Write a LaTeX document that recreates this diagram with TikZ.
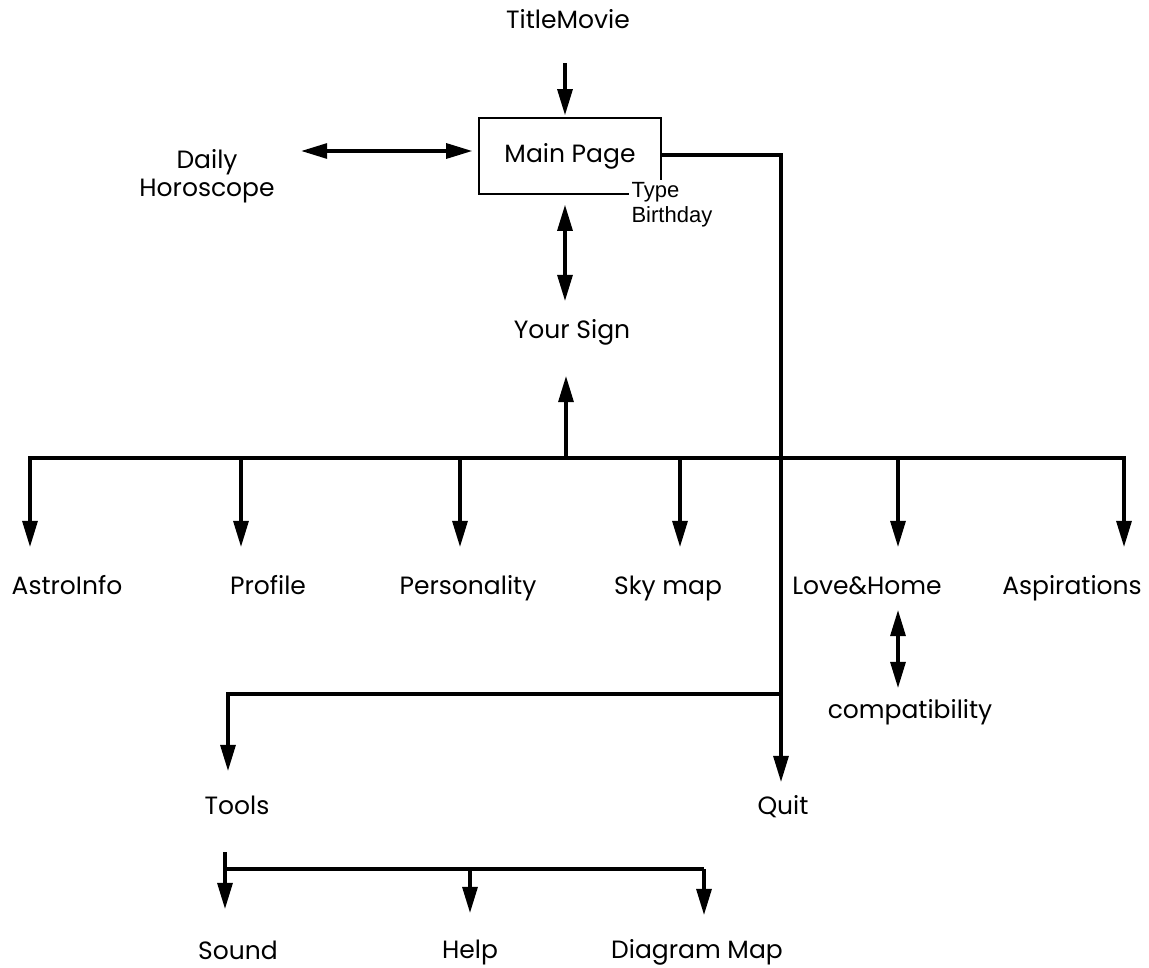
\documentclass[tikz,border=0pt]{standalone}
\usepackage{fontspec}
\setmainfont{Poppins}
\newfontfamily\notefont{Liberation Sans}
\usetikzlibrary{arrows.meta,positioning}

\begin{document}
\begin{tikzpicture} [
      x = 1pt, y = -1pt,
      line width = 3.1pt,
      >= {Triangle[length=26pt, width=15pt]},
      every node/.style = {inner sep = 0, font = \fontsize{25}{28}\selectfont},
      screen/.style = {text height = 19pt, text depth = 6pt},
      frame/.style = {draw, line width = 1.6pt, minimum width = 182pt, minimum height = 76pt},
      note/.style = {fill = white, inner sep = 3pt, align = left, font = \notefont\fontsize{22}{25}\selectfont}
      ]
    \useasboundingbox (0,0) rectangle (1149,968);

    % main page and its neighbours
    \node [screen] (title) at (568,22) {TitleMovie};
    \node [frame] (main) at (570,156) {Main Page};
    \node [note, anchor = north west] (birthday) at (627,178) {Type\\Birthday};
    \node [align = center] (daily) at (207,176) {Daily\\Horoscope};
    \node [screen] (sign) at (572,332) {Your Sign};

    % sign pages
    \node [screen] (astro) at (67,588) {AstroInfo};
    \node [screen] (profile) at (268,588) {Profile};
    \node [screen] (person) at (468,588) {Personality};
    \node [screen] (sky) at (668,588) {Sky map};
    \node [screen] (love) at (867,588) {Love\&Home};
    \node [screen] (aspire) at (1072,588) {Aspirations};
    \node [screen] (compat) at (910,712) {compatibility};

    % tools and quit
    \node [screen] (tools) at (237,808) {Tools};
    \node [screen] (quit) at (783,808) {Quit};
    \node [screen] (sound) at (238,953) {Sound};
    \node [screen] (help) at (470,952) {Help};
    \node [screen] (diagram) at (697,952) {Diagram Map};

    \coordinate (hub) at (566,458);
    \coordinate (b1) at (30,458);
    \coordinate (b2) at (241,458);
    \coordinate (b3) at (460,458);
    \coordinate (b4) at (680,458);
    \coordinate (b5) at (898,458);
    \coordinate (b6) at (1124,458);
    \coordinate (tb) at (781,694);
    \coordinate (s0) at (225,852);
    \coordinate (s1) at (225,869);
    \coordinate (s2) at (470,869);
    \coordinate (s3) at (704,869);

    \draw [->, shorten <= 27pt, shorten >= 2pt] (title.south -| 565,0) -- (main.north -| 565,0);
    \draw [<->, shorten <= 25pt, shorten >= 6pt] ([yshift=5pt]main.west -| daily.east) -- ([yshift=5pt]main.west);
    \draw [->, shorten >= 12pt] ([yshift=1pt]main.east) -| (quit.north -| tb);
    \draw [<->, shorten <= 10pt, shorten >= 17pt] (main.south -| 565,0) -- (sign.north -| 565,0);
    \draw [->, shorten >= 30pt] (hub) -- (hub |- sign.south);

    \draw [line cap = rect] (b1) -- (b6);
    \foreach \b/\n in {b1/astro, b2/profile, b3/person, b4/sky, b5/love, b6/aspire}
      \draw [->, shorten >= 27pt] (\b) -- (\b |- \n.north);
    \draw [<->, shorten <= 8pt, shorten >= 10pt] (b5 |- love.south) -- (b5 |- compat.north);

    \draw [->, shorten >= 23pt] (tb) -| ([xshift=-9pt]tools.north);
    \draw [->, shorten >= 30pt] (s0) -- (s0 |- sound.north);
    \draw (s1) -- (s3);
    \draw [->, shorten >= 25pt] (s2) -- (s2 |- help.north);
    \draw [->, shorten >= 23pt] (s3) -- (s3 |- diagram.north);
\end{tikzpicture}
\end{document}
